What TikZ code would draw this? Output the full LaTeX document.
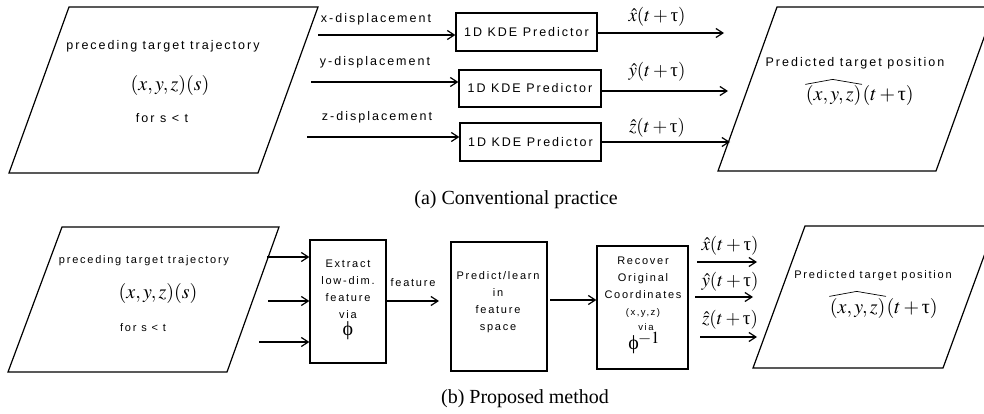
\documentclass[tikz,border=0pt]{standalone}
\usepackage{mathptmx}
\usepackage{fontspec}
\setmainfont{Liberation Serif}
\newfontfamily\labfont[LetterSpace=16]{Liberation Sans}
\newfontfamily\grkfont{Liberation Serif}
\newcommand{\utau}{\mbox{\grkfont τ}}
\newcommand{\uphi}{\mbox{\grkfont ϕ}}
\usetikzlibrary{arrows.meta}

\begin{document}
\begin{tikzpicture}[x=1pt,y=-1pt,line width=1.2pt,
  lab/.style={font=\labfont\fontsize{12.5}{15}\selectfont,inner sep=0pt},
  labs/.style={font=\labfont\fontsize{11}{17}\selectfont,inner sep=0pt,align=center},
  smalltxt/.style={font=\labfont\fontsize{9.5}{11}\selectfont,inner sep=0pt},
  mth/.style={font=\fontsize{20}{24}\selectfont,inner sep=0pt},
  est/.style={font=\fontsize{19}{22}\selectfont,inner sep=0pt},
  captxt/.style={font=\fontsize{20}{24}\selectfont,inner sep=0pt},
  box/.style={draw,inner sep=0pt},
  hatline/.style={line width=0.7pt},
  arr/.style={-{Straight Barb[length=7pt,width=9pt]}}]

\useasboundingbox (0,0) rectangle (984,414);
\clip (0,0) rectangle (984,414);

% ---------- (a) conventional practice ----------
\draw (69,7) -- (318,7) -- (258,173) -- (9,173) -- cycle;
\node[lab] (inA) at (163,46) {preceding target trajectory};
\node[mth] (trA) at (170,86) {$(x,y,z)(s)$};
\node[lab] (forA) at (162,118) {for s < t};

\node[box,lab,minimum width=141pt,minimum height=38pt] (kx) at (526.5,32) {1D KDE Predictor};
\node[box,lab,minimum width=142pt,minimum height=37pt] (ky) at (530,88.5) {1D KDE Predictor};
\node[box,lab,minimum width=141pt,minimum height=38pt] (kz) at (530.5,142) {1D KDE Predictor};

\coordinate (xs) at (318,35);
\coordinate (ys) at (311,82);
\coordinate (zs) at (307,137);
\draw[arr] (xs) -- (xs -| kx.west);
\draw[arr] (ys) -- (ys -| ky.west);
\draw[arr] (zs) -- (zs -| kz.west);
\node[lab] (lx) at (376,19) {x-displacement};
\node[lab] (ly) at (375,62) {y-displacement};
\node[lab] (lz) at (377,117) {z-displacement};

\coordinate (xo) at (724,33);
\coordinate (yo) at (728,91);
\coordinate (zo) at (730,142);
\draw[arr] (kx.east |- xo) -- (xo);
\draw[arr] (ky.east |- yo) -- (yo);
\draw[arr] (kz.east |- zo) -- (zo);
\node[est] (ex) at (657,17) {$\hat{x}(t+\utau)$};
\node[est] (ey) at (657,72) {$\hat{y}(t+\utau)$};
\node[est] (ez) at (657,128) {$\hat{z}(t+\utau)$};

\draw (777,7) -- (995,7) -- (936,171) -- (718,171) -- cycle;
\node[lab] (outA) at (855,63) {Predicted target position};
\node[mth,anchor=east] (posA1) at (862,96) {$(x,y,z)$};
\node[mth,anchor=west] (posA2) at (posA1.east) {$(t+\utau)$};
\draw[hatline] ([yshift=1pt]posA1.north west) -- ([xshift=-1pt,yshift=6pt]posA1.north) -- ([yshift=1pt]posA1.north east);

\node[captxt] (capA) at (516,200) {(a) Conventional practice};

% ---------- (b) proposed method ----------
\draw (62,227) -- (279,227) -- (227,372) -- (8,372) -- cycle;
\node[labs] (inB) at (144,261) {preceding target trajectory};
\node[mth] (trB) at (158,293) {$(x,y,z)(s)$};
\node[labs] (forB) at (143,328) {for s < t};

\node[box,minimum width=76pt,minimum height=123pt] (ext) at (348,301.5) {};
\node[labs] (extT) at (348,289) {Extract\\low-dim.\\feature\\via};
\node[mth] (phi) at (348,331) {$\uphi$};

\node[box,minimum width=96pt,minimum height=129pt] (prd) at (499,306.5) {};
\node[labs] (prdT) at (498,302.5) {Predict/learn\\in\\feature\\space};

\node[box,minimum width=91pt,minimum height=123pt] (rec) at (642.5,307.5) {};
\node[labs] (recT) at (643,278) {Recover\\Original\\Coordinates};
\node[smalltxt] (recC) at (643,313) {(x,y,z)};
\node[mth] (phiinv) at (644,343) {$\uphi\raisebox{6pt}{$\scriptstyle\mkern-1mu$\fontsize{17}{20}\selectfont$-1$}$};
\node[smalltxt] (recV) at (646,327) {via};

\coordinate (a1) at (267,257);
\coordinate (a2) at (268,301);
\coordinate (a3) at (259,342);
\draw[arr] (a1) -- (a1 -| ext.west);
\draw[arr] (a2) -- (a2 -| ext.west);
\draw[arr] (a3) -- (a3 -| ext.west);

\coordinate (fe) at (439,301);
\draw[arr] (ext.east |- fe) -- (fe);
\node[labs] (feat) at (413,283) {feature};
\coordinate (pr) at (550,300);
\draw[arr] (pr) -- (pr -| rec.west);

\coordinate (b1s) at (697,262);
\coordinate (b1e) at (757,262);
\coordinate (b2s) at (695,297);
\coordinate (b2e) at (753,297);
\coordinate (b3s) at (700,337);
\coordinate (b3e) at (757,337);
\draw[arr] (b1s) -- (b1e);
\draw[arr] (b2s) -- (b2e);
\draw[arr] (b3s) -- (b3e);
\node[est] (bx) at (730,246) {$\hat{x}(t+\utau)$};
\node[est] (by) at (730,282) {$\hat{y}(t+\utau)$};
\node[est] (bz) at (730,320) {$\hat{z}(t+\utau)$};

\draw (805,226) -- (995,226) -- (943,368) -- (753,368) -- cycle;
\node[labs] (outB) at (873,276) {Predicted target position};
\node[mth,anchor=east] (posB1) at (886,308) {$(x,y,z)$};
\node[mth,anchor=west] (posB2) at (posB1.east) {$(t+\utau)$};
\draw[hatline] ([yshift=1pt]posB1.north west) -- ([xshift=-1pt,yshift=6pt]posB1.north) -- ([yshift=1pt]posB1.north east);

\node[captxt] (capB) at (525,399) {(b) Proposed method};
\end{tikzpicture}
\end{document}
